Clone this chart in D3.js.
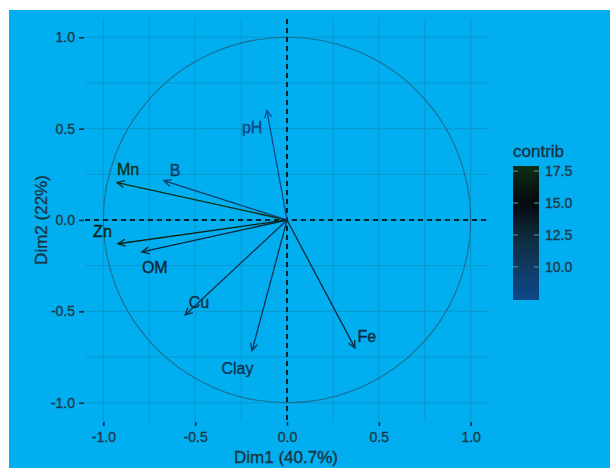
<!DOCTYPE html>
<html>
<head>
<meta charset="utf-8">
<script src="https://cdn.jsdelivr.net/npm/d3@7"></script>
<style>
  body { margin: 0; background: #fff; }
  svg { display: block; font-family: "Liberation Sans", Arial, sans-serif; }
  svg text { paint-order: stroke; stroke-width: 0.35px; }
</style>
</head>
<body>
<svg class="pcaplot" width="610" height="468"></svg>
<script>

// variables and their coordinates on Dim1 / Dim2
let variables = ["pH", "Mn", "B", "Zn", "OM", "Cu", "Clay", "Fe"];
let dim1 = [-0.11, -0.925, -0.67, -0.92, -0.79, -0.555, -0.19, 0.37];
let dim2 = [0.60, 0.205, 0.215, -0.13, -0.175, -0.52, -0.715, -0.70];
let contrib = [7.4, 18.0, 9.7, 17.0, 12.9, 11.5, 10.9, 12.5];

// where ggrepel put the text labels (data units)
let labelX = [-0.19, -0.865, -0.61, -1.005, -0.72, -0.48, -0.27, 0.435];
let labelY = [0.51, 0.28, 0.275, -0.06, -0.26, -0.45, -0.81, -0.635];

let axisTicks = [-1.0, -0.5, 0.0, 0.5, 1.0];
let minorTicks = [-0.75, -0.25, 0.25, 0.75];
let legendTicks = [10.0, 12.5, 15.0, 17.5];
let contribRange = [7.4, 17.9];

let svg = d3.select(".pcaplot");

// blue background (the original has a thin white strip top and left)
svg.append("rect")
  .attr("x", 9).attr("y", 10)
  .attr("width", 601).attr("height", 458)
  .attr("fill", "#01aeef");

let margin = { top: 19, right: 121, bottom: 47, left: 85 };
let plotWidth = 610 - margin.left - margin.right;
let plotHeight = 468 - margin.top - margin.bottom;

let x = d3.scaleLinear().domain([-1.1, 1.1]).range([0, plotWidth]);
let y = d3.scaleLinear().domain([-1.1, 1.1]).range([plotHeight, 0]);

let color = d3.scaleLinear()
  .domain([7.5, 10, 12.5, 15, 18])
  .range(["#0e4888", "#0f3a62", "#0d2a3a", "#03080f", "#0d3014"])
  .clamp(true);

let plot = svg.append("g").attr("transform", translate(margin.left, margin.top));

// grid lines
let grid = plot.append("g").attr("id", "grid");
grid.selectAll(".vgrid")
  .data(axisTicks.concat(minorTicks))
  .join("line")
  .attr("x1", d => x(d)).attr("x2", d => x(d))
  .attr("y1", 0).attr("y2", plotHeight)
  .attr("stroke", "#0a98cd").attr("stroke-width", 1);
grid.selectAll(".hgrid")
  .data(axisTicks.concat(minorTicks))
  .join("line")
  .attr("y1", d => y(d)).attr("y2", d => y(d))
  .attr("x1", 0).attr("x2", plotWidth)
  .attr("stroke", "#0a98cd").attr("stroke-width", 1);

// correlation circle
plot.append("ellipse")
  .attr("cx", x(0)).attr("cy", y(0))
  .attr("rx", x(1) - x(0)).attr("ry", y(0) - y(1))
  .attr("fill", "none")
  .attr("stroke", "#1c6d8e")
  .attr("stroke-width", 1.1);

// dashed zero lines
plot.append("line")
  .attr("x1", x(0)).attr("x2", x(0))
  .attr("y1", 0).attr("y2", plotHeight)
  .attr("stroke", "#000").attr("stroke-width", 1.6)
  .attr("stroke-dasharray", "5,4");
plot.append("line")
  .attr("x1", 0).attr("x2", plotWidth)
  .attr("y1", y(0)).attr("y2", y(0))
  .attr("stroke", "#000").attr("stroke-width", 1.6)
  .attr("stroke-dasharray", "5,4");

// axes
let xAxis = d3.axisBottom(x).tickValues(axisTicks).tickFormat(d3.format(".1f")).tickSize(4).tickPadding(6);
let yAxis = d3.axisLeft(y).tickValues(axisTicks).tickFormat(d3.format(".1f")).tickSize(5).tickPadding(4);

let xGroup = plot.append("g").attr("transform", translate(0, plotHeight + 1)).call(xAxis);
let yGroup = plot.append("g").attr("transform", translate(-1, 0)).call(yAxis);
[xGroup, yGroup].forEach(g => {
  g.select(".domain").remove();
  g.selectAll(".tick line").attr("stroke", "#13303f").attr("stroke-width", 1.6);
  g.selectAll(".tick text")
    .attr("fill", "#1d3947")
    .attr("stroke", "#1d3947")
    .style("font-size", "14px")
    .style("font-family", "'Liberation Sans', Arial, sans-serif");
});
xGroup.selectAll(".tick text").text(d => d3.format(".1f")(d).replace("−", "-"));
yGroup.selectAll(".tick text").text(d => d3.format(".1f")(d).replace("−", "-"));

// arrows
let rows = variables.map((v, i) => ({
  name: v, x: dim1[i], y: dim2[i], contrib: contrib[i], lx: labelX[i], ly: labelY[i]
}));

let headLen = 8, headAng = Math.PI / 7;
let arrows = plot.append("g").attr("id", "arrows");
rows.forEach(d => {
  let x1 = x(d.x), y1 = y(d.y);
  let ang = Math.atan2(y1 - y(0), x1 - x(0));
  let c = color(d.contrib);
  arrows.append("line")
    .attr("x1", x(0)).attr("y1", y(0))
    .attr("x2", x1).attr("y2", y1)
    .attr("stroke", c).attr("stroke-width", 1.3);
  let path = d3.path();
  path.moveTo(x1 - headLen * Math.cos(ang - headAng), y1 - headLen * Math.sin(ang - headAng));
  path.lineTo(x1, y1);
  path.lineTo(x1 - headLen * Math.cos(ang + headAng), y1 - headLen * Math.sin(ang + headAng));
  arrows.append("path")
    .attr("d", path.toString())
    .attr("fill", "none")
    .attr("stroke", c).attr("stroke-width", 1.3);
});

plot.append("g").attr("id", "labels")
  .selectAll("text")
  .data(rows)
  .join("text")
  .attr("x", d => x(d.lx))
  .attr("y", d => y(d.ly))
  .attr("dy", "0.36em")
  .attr("text-anchor", "middle")
  .attr("fill", d => color(d.contrib))
  .attr("stroke", d => color(d.contrib))
  .style("font-size", "16px")
  .text(d => d.name);

// axis titles
svg.append("text")
  .attr("x", margin.left + x(0) - 1)
  .attr("y", 463)
  .attr("text-anchor", "middle")
  .attr("fill", "#1a3442")
  .attr("stroke", "#1a3442")
  .style("font-size", "17px")
  .text("Dim1 (40.7%)");

svg.append("text")
  .attr("transform", "translate(47," + (margin.top + y(0)) + ") rotate(-90)")
  .attr("text-anchor", "middle")
  .attr("fill", "#1a3442")
  .attr("stroke", "#1a3442")
  .style("font-size", "17px")
  .text("Dim2 (22%)");

// colour bar legend
let legX = 513, legW = 26, legTop = 166, legBottom = 300;
let legScale = d3.scaleLinear().domain(contribRange).range([legBottom, legTop]);

let defs = svg.append("defs");
let grad = defs.append("linearGradient")
  .attr("id", "contribGrad")
  .attr("x1", "0").attr("y1", "1").attr("x2", "0").attr("y2", "0");
d3.range(0, 1.0001, 0.05).forEach(t => {
  let v = contribRange[0] + t * (contribRange[1] - contribRange[0]);
  grad.append("stop").attr("offset", t).attr("stop-color", color(v));
});

svg.append("text")
  .attr("x", legX)
  .attr("y", 157)
  .attr("fill", "#1a3442")
  .attr("stroke", "#1a3442")
  .style("font-size", "17px")
  .text("contrib");

svg.append("rect")
  .attr("x", legX).attr("y", legTop)
  .attr("width", legW).attr("height", legBottom - legTop)
  .attr("fill", "url(#contribGrad)");

let legTicks = svg.append("g").attr("id", "legend-ticks");
legendTicks.forEach(v => {
  legTicks.append("line")
    .attr("x1", legX).attr("x2", legX + 5)
    .attr("y1", legScale(v)).attr("y2", legScale(v))
    .attr("stroke", "#3c8d9c").attr("stroke-width", 1.2);
  legTicks.append("line")
    .attr("x1", legX + legW - 5).attr("x2", legX + legW)
    .attr("y1", legScale(v)).attr("y2", legScale(v))
    .attr("stroke", "#3c8d9c").attr("stroke-width", 1.2);
});

svg.append("g")
  .selectAll("text")
  .data(legendTicks)
  .join("text")
  .attr("x", legX + legW + 6)
  .attr("y", d => legScale(d))
  .attr("dy", "0.36em")
  .attr("fill", "#1d3947")
  .attr("stroke", "#1d3947")
  .style("font-size", "14px")
  .text(d => d3.format(".1f")(d));

function translate(x, y) {
  return 'translate(' + x + ',' + y + ')';
}
</script>
</body>
</html>
